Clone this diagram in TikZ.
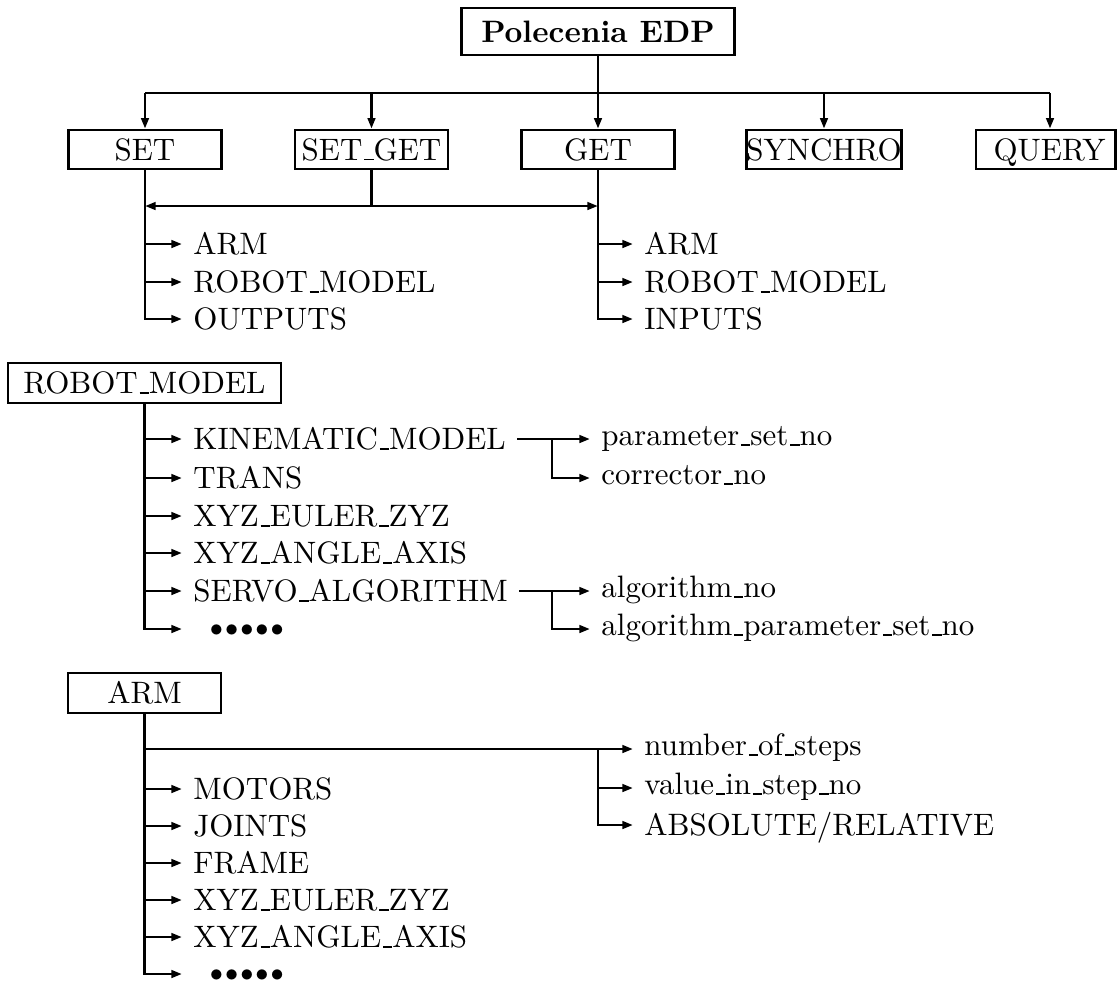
\documentclass[tikz,border=0pt]{standalone}
\usepackage{graphicx}
\usetikzlibrary{arrows.meta}
% narrow low-rule underscore, as in classic LaTeX output
\newcommand\usc{\leavevmode\kern.06em\vbox{\hrule width.3em}}
% row of five bullets
\newcommand\bulletrow{\foreach \k in {1,...,5}{\makebox[4.9pt]{\scalebox{0.85}{$\bullet$}}}}
\begin{document}
\begin{tikzpicture}[x=0.3229pt,y=-0.3229pt,
  wire/.style={line width=0.85pt},
  arr/.style={wire,-{Triangle[length=3.4pt,width=2.4pt]}},
  cmdbox/.style={draw,line width=0.85pt,minimum width=49.4pt,minimum height=12.6pt,
    inner sep=0pt,text height=6.83pt,text depth=0pt},
  widebox/.style={cmdbox,minimum width=88.2pt},
  capitem/.style={anchor=west,inner xsep=3.5pt,inner ysep=0pt,text height=6.83pt,text depth=0pt},
  lowitem/.style={anchor=west,inner xsep=3.5pt,inner ysep=0pt,text height=6.15pt,text depth=1.94pt},
  dotitem/.style={anchor=west,inner xsep=3.5pt,inner ysep=0pt,text height=5pt,text depth=0pt},
]
\useasboundingbox (0,0) rectangle (1117,980);

% command groups
\node[widebox,minimum height=15.2pt] (root) at (598,31.5) {\bfseries Polecenia EDP};
\node[cmdbox] (set)     at (145,149.5)  {SET};
\node[cmdbox] (setget)  at (371.5,149.5) {SET\usc GET};
\node[cmdbox] (get)     at (598,149.5)  {GET};
\node[cmdbox] (synchro) at (824,149.5)  {SYNCHRO};
\node[cmdbox,minimum width=45pt] (query) at (1045.5,149.5) {\hspace*{2.6pt}QUERY};

\coordinate (busL) at (145,93);
\coordinate (busR) at (1050,93);
\draw[wire] (root.south) -- (root.south |- busL);
\draw[wire] (busL) -- (busR);
\foreach \n in {set,setget,get,synchro}
  \draw[arr] (\n.north |- busL) -- (\n.north);
\draw[arr] (busR) -- (busR |- query.north);

% SET_GET feeds both branches
\coordinate (sg) at (371.5,206);
\draw[arr] (setget.south) |- (set.south |- sg);
\draw[arr] (sg) -- (get.south |- sg);

% SET branch
\node[capitem] (s1) at (182,244) {ARM};
\node[capitem] (s2) at (182,282) {ROBOT\usc MODEL};
\node[capitem] (s3) at (182,319) {OUTPUTS};
\draw[arr] (set.south) |- (s3.west);
\draw[arr] (set.south |- s1.west) -- (s1.west);
\draw[arr] (set.south |- s2.west) -- (s2.west);

% GET branch
\node[capitem] (g1) at (633,244) {ARM};
\node[capitem] (g2) at (633,282) {ROBOT\usc MODEL};
\node[capitem] (g3) at (633,319) {INPUTS};
\draw[arr] (get.south) |- (g3.west);
\draw[arr] (get.south |- g1.west) -- (g1.west);
\draw[arr] (get.south |- g2.west) -- (g2.west);

% ROBOT_MODEL
\node[widebox,minimum height=12.9pt] (rm) at (144.5,383) {ROBOT\usc MODEL};
\node[capitem] (r1) at (182,439) {KINEMATIC\usc MODEL};
\node[capitem] (r2) at (182,478) {TRANS};
\node[capitem] (r3) at (182,516) {XYZ\usc EULER\usc ZYZ};
\node[capitem] (r4) at (182,553) {XYZ\usc ANGLE\usc AXIS};
\node[capitem] (r5) at (182,591) {SERVO\usc ALGORITHM};
\node[dotitem] (r6) at (182,629) {\hspace*{5pt}\bulletrow};
\draw[arr] (rm.south) |- (r6.west);
\foreach \i in {1,...,5}
  \draw[arr] (rm.south |- r\i.west) -- (r\i.west);

\node[lowitem] (k1) at (590,439) {parameter\usc set\usc no};
\node[lowitem] (k2) at (590,478) {corrector\usc no};
\coordinate (kj) at (552,439);
\draw[arr] (r1.east) -- (k1.west);
\draw[arr] (kj) |- (k2.west);

\node[lowitem] (v1) at (590,591) {algorithm\usc no};
\node[lowitem] (v2) at (590,629) {algorithm\usc parameter\usc set\usc no};
\coordinate (vj) at (552,591);
\draw[arr] (r5.east) -- (v1.west);
\draw[arr] (vj) |- (v2.west);

% ARM
\node[cmdbox,minimum height=12.9pt] (arm) at (144.5,693) {ARM};
\node[capitem] (m1) at (182,789) {MOTORS};
\node[capitem] (m2) at (182,826) {JOINTS};
\node[capitem] (m3) at (182,863) {FRAME};
\node[capitem] (m4) at (182,900) {XYZ\usc EULER\usc ZYZ};
\node[capitem] (m5) at (182,937) {XYZ\usc ANGLE\usc AXIS};
\node[dotitem] (m6) at (182,974) {\hspace*{5pt}\bulletrow};
\draw[arr] (arm.south) |- (m6.west);
\foreach \i in {1,...,5}
  \draw[arr] (arm.south |- m\i.west) -- (m\i.west);

\coordinate (aj) at (598,749);
\node[lowitem] (a1) at (633,749) {number\usc of\usc steps};
\node[lowitem] (a2) at (633,788) {value\usc in\usc step\usc no};
\node[capitem] (a3) at (633,825) {ABSOLUTE/RELATIVE};
\draw[arr] (arm.south |- aj) -- (a1.west);
\draw[arr] (aj) |- (a2.west);
\draw[arr] (aj) |- (a3.west);
\end{tikzpicture}
\end{document}
